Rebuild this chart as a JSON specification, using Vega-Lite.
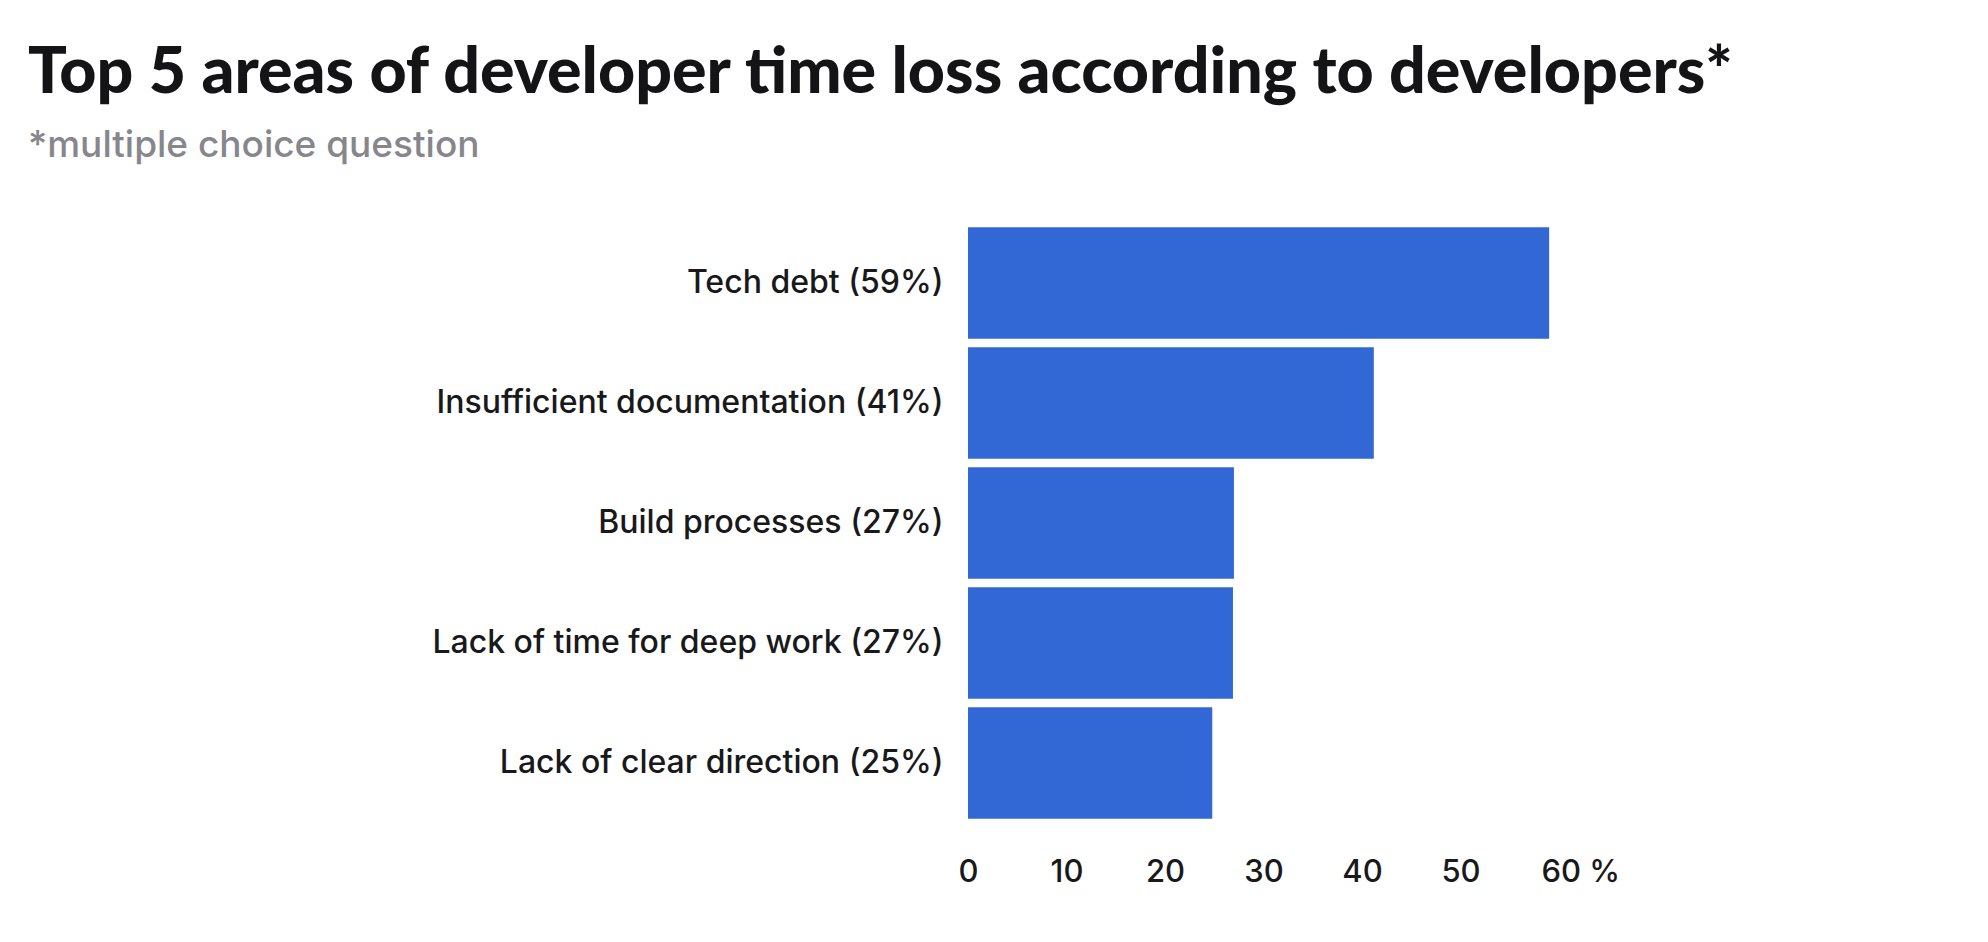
{
  "$schema": "https://vega.github.io/schema/vega-lite/v6.json",
  "width": 591,
  "height": 600,
  "autosize": {"type": "none"},
  "padding": {"left": 968, "top": 223, "right": 429, "bottom": 119},
  "background": "#ffffff",
  "title": {
    "text": "Top 5 areas of developer time loss according to developers*",
    "subtitle": "*multiple choice question",
    "anchor": "start",
    "frame": "group",
    "dx": -940,
    "offset": 58,
    "font": "Lato",
    "fontSize": 64.5,
    "fontWeight": 900,
    "color": "#141416",
    "subtitleFont": "Inter",
    "subtitleFontSize": 37,
    "subtitleFontWeight": 450,
    "subtitleColor": "#86868c",
    "subtitlePadding": 22
  },
  "data": {
    "values": [
      {"area": "Tech debt (59%)", "share": 59.0},
      {"area": "Insufficient documentation (41%)", "share": 41.2},
      {"area": "Build processes (27%)", "share": 27.0},
      {"area": "Lack of time for deep work (27%)", "share": 26.9},
      {"area": "Lack of clear direction (25%)", "share": 24.8}
    ]
  },
  "mark": {"type": "bar", "color": "#3268d6"},
  "encoding": {
    "y": {
      "field": "area",
      "type": "nominal",
      "sort": null,
      "scale": {"paddingInner": 0.0725, "paddingOuter": 0.036},
      "axis": {
        "title": null,
        "ticks": false,
        "domain": false,
        "labelPadding": 25,
        "labelLimit": 0,
        "labelFont": "Inter",
        "labelFontSize": 32,
        "labelFontWeight": 500,
        "labelColor": "#19191c"
      }
    },
    "x": {
      "field": "share",
      "type": "quantitative",
      "scale": {"domain": [0, 60], "nice": false},
      "axis": {
        "title": null,
        "values": [0, 10, 20, 30, 40, 50, 60],
        "ticks": false,
        "domain": false,
        "grid": false,
        "labelPadding": 34,
        "labelFont": "Inter",
        "labelFontSize": 31,
        "labelFontWeight": 500,
        "labelColor": "#19191c",
        "labelFlush": false,
        "labelExpr": "datum.value == 60 ? '60 %' : datum.label",
        "labelAlign": {"condition": {"test": "datum.value == 60", "value": "left"}, "value": "center"},
        "labelOffset": {"condition": {"test": "datum.value == 60", "value": -18}, "value": 0}
      }
    }
  },
  "config": {"view": {"stroke": null}}
}
